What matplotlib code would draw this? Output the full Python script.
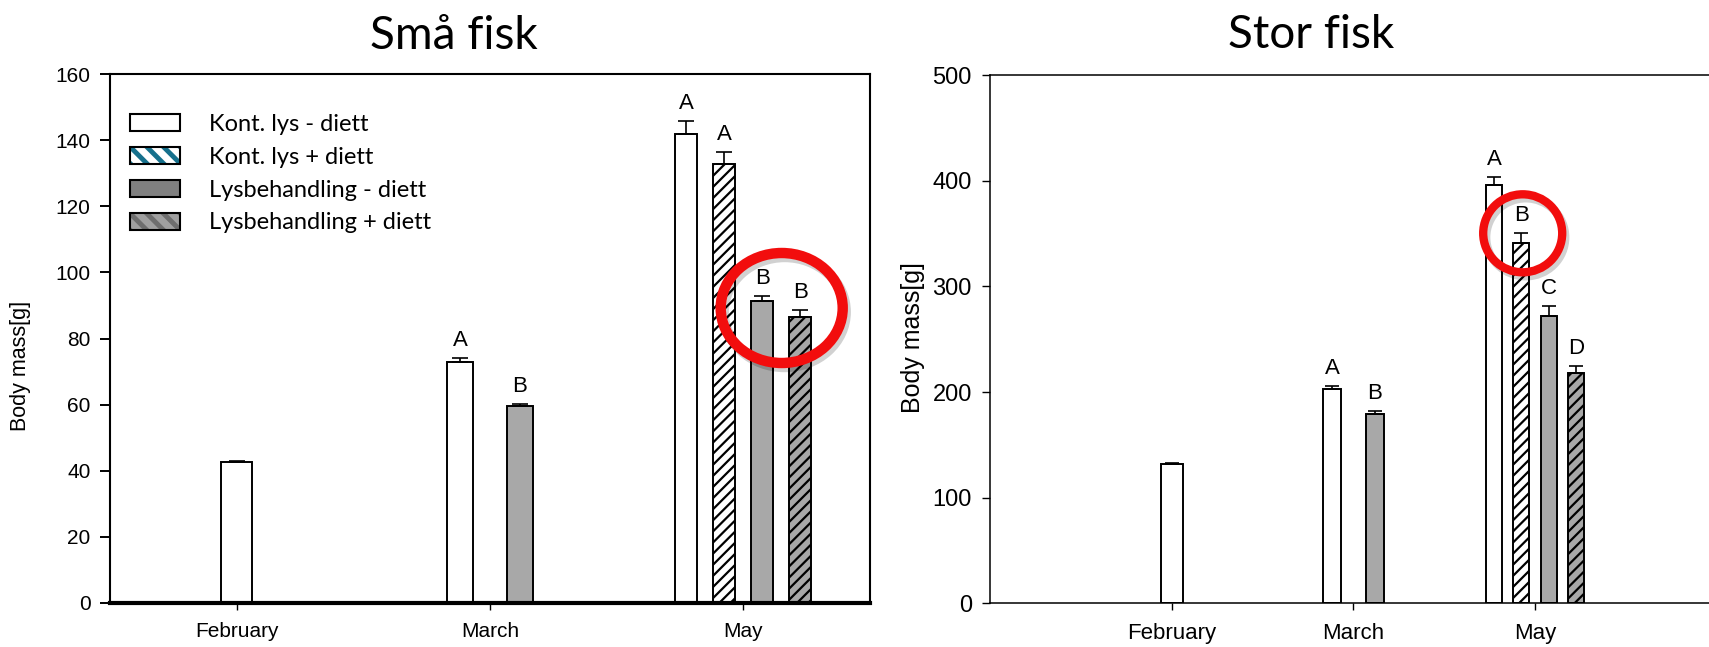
import numpy as np
import matplotlib
matplotlib.use("Agg")
from matplotlib import pyplot as plt
from matplotlib.patches import Patch, Ellipse

months = ["February", "March", "May"]
treatments = ["Kont. lys - diett", "Kont. lys + diett",
              "Lysbehandling - diett", "Lysbehandling + diett"]
nan = np.nan

# Små fisk (body mass, g)
small_kl_minus = [42.6, 72.8, 141.8]
small_kl_plus = [nan, nan, 132.9]
small_lb_minus = [nan, 59.5, 91.3]
small_lb_plus = [nan, nan, 86.6]
small_kl_minus_err = [0.5, 1.3, 4.0]
small_kl_plus_err = [nan, nan, 3.4]
small_lb_minus_err = [nan, 0.8, 1.5]
small_lb_plus_err = [nan, nan, 2.0]
small_kl_minus_lab = ["", "A", "A"]
small_kl_plus_lab = ["", "", "A"]
small_lb_minus_lab = ["", "B", "B"]
small_lb_plus_lab = ["", "", "B"]

# Stor fisk (body mass, g)
big_kl_minus = [131.8, 202.5, 395.7]
big_kl_plus = [nan, nan, 341.2]
big_lb_minus = [nan, 179.1, 272.1]
big_lb_plus = [nan, nan, 218.2]
big_kl_minus_err = [1.5, 3.5, 8.0]
big_kl_plus_err = [nan, nan, 9.4]
big_lb_minus_err = [nan, 2.8, 9.8]
big_lb_plus_err = [nan, nan, 6.3]
big_kl_minus_lab = ["", "A", "A"]
big_kl_plus_lab = ["", "", "B"]
big_lb_minus_lab = ["", "B", "C"]
big_lb_plus_lab = ["", "", "D"]

W, H = 1709, 647
GRAY = "#a8a8a8"
ARIAL = ["Liberation Sans", "DejaVu Sans"]
NARROW = ["Liberation Sans Narrow", "Liberation Sans", "DejaVu Sans"]
TEXT_FONT = ["Lato", "DejaVu Sans"]

plt.rcParams["hatch.linewidth"] = 1.6

# bar width and step between bars, by number of bars in a month
group_layout = {1: (0.122, 0.0), 2: (0.10, 0.236), 4: (0.088, 0.15)}

bar_styles = [
    dict(facecolor="white", edgecolor="black", hatch=None),
    dict(facecolor="white", edgecolor="black", hatch="///"),
    dict(facecolor=GRAY, edgecolor="black", hatch=None),
    dict(facecolor=GRAY, edgecolor="black", hatch="///"),
]


def draw_panel(ax, series, errs, labels, capsize, lw, font):
    for i in range(len(months)):
        present = [k for k in range(len(series)) if not np.isnan(series[k][i])]
        n = len(present)
        width, step = group_layout[n]
        for j, k in enumerate(present):
            x = i + (j - (n - 1) / 2) * step
            val, err = series[k][i], errs[k][i]
            ax.bar(x, val, width, linewidth=lw, zorder=2, **bar_styles[k])
            ax.errorbar(x, val, yerr=[[0], [err]], fmt="none", ecolor="black",
                        elinewidth=1.2, capsize=capsize, capthick=1.2, zorder=3)
            if labels[k][i]:
                ax.annotate(labels[k][i], (x, val + err), xytext=(0, 5),
                            textcoords="offset points", ha="center", va="bottom",
                            fontsize=16, family=font)


fig = plt.figure(figsize=(W / 100, H / 100), dpi=100)

# left panel
ax1 = fig.add_axes([110 / W, 1 - 603 / H, 760 / W, 529 / H])
draw_panel(ax1,
           [small_kl_minus, small_kl_plus, small_lb_minus, small_lb_plus],
           [small_kl_minus_err, small_kl_plus_err, small_lb_minus_err, small_lb_plus_err],
           [small_kl_minus_lab, small_kl_plus_lab, small_lb_minus_lab, small_lb_plus_lab],
           capsize=5.5, lw=1.4, font=ARIAL)
ax1.set_xlim(-0.5, 2.5)
ax1.set_ylim(0, 160)
ax1.set_yticks(np.arange(0, 161, 20))
ax1.set_xticks(range(len(months)))
ax1.set_xticklabels(months)
for s in ["left", "top", "right"]:
    ax1.spines[s].set_linewidth(1.5)
ax1.spines["bottom"].set_linewidth(3)
ax1.tick_params(axis="y", length=7, width=1.4, pad=7, labelsize=15)
ax1.tick_params(axis="x", length=5, width=1.0, pad=9, labelsize=15)
for t in ax1.get_xticklabels() + ax1.get_yticklabels():
    t.set_family(ARIAL)

# right panel (runs past the right edge of the picture)
ax2 = fig.add_axes([990 / W, 1 - 603.3 / H, 726.8 / W, 528 / H])
draw_panel(ax2,
           [big_kl_minus, big_kl_plus, big_lb_minus, big_lb_plus],
           [big_kl_minus_err, big_kl_plus_err, big_lb_minus_err, big_lb_plus_err],
           [big_kl_minus_lab, big_kl_plus_lab, big_lb_minus_lab, big_lb_plus_lab],
           capsize=5, lw=1.4, font=NARROW)
ax2.set_xlim(-1, 3)
ax2.set_ylim(0, 500)
ax2.set_yticks(np.arange(0, 501, 100))
ax2.set_xticks(range(len(months)))
ax2.set_xticklabels(months)
ax2.spines["right"].set_visible(False)
for s in ["left", "top", "bottom"]:
    ax2.spines[s].set_linewidth(1.1)
ax2.tick_params(axis="y", length=6, width=1.0, pad=7, labelsize=17)
ax2.tick_params(axis="x", length=5, width=1.0, pad=9, labelsize=16)
for t in ax2.get_xticklabels() + ax2.get_yticklabels():
    t.set_family(NARROW)

# titles and axis labels
fig.text(454 / W, 1 - 49 / H, "Små fisk", ha="center", va="baseline",
         fontsize=33, family=TEXT_FONT)
fig.text(1311 / W, 1 - 48.5 / H, "Stor fisk", ha="center", va="baseline",
         fontsize=33, family=TEXT_FONT)
fig.text(21 / W, 1 - 366 / H, "Body mass[g]", rotation=90, ha="center",
         va="center", fontsize=15.5, family=ARIAL)
fig.text(913 / W, 1 - 338 / H, "Body mass[g]", rotation=90, ha="center",
         va="center", fontsize=18, family=ARIAL)

# legend
teal = "#16708c"
h1 = Patch(facecolor="white", edgecolor="black", linewidth=1.5)
h2 = (Patch(facecolor="white", edgecolor=teal, hatch="\\\\", linewidth=0),
      Patch(facecolor="none", edgecolor="black", linewidth=1.5))
h3 = Patch(facecolor="#808080", edgecolor="black", linewidth=1.5)
h4 = (Patch(facecolor="#a0a0a0", edgecolor="#6e6e6e", hatch="\\\\", linewidth=0),
      Patch(facecolor="none", edgecolor="black", linewidth=1.5))
leg = ax1.legend([h1, h2, h3, h4], treatments, loc="upper left",
                 bbox_to_anchor=(130 / W, 1 - 114 / H), bbox_transform=fig.transFigure,
                 frameon=False, prop=dict(family=TEXT_FONT, size=17),
                 handlelength=2.1, handleheight=0.75, handletextpad=1.25,
                 labelspacing=0.5, borderpad=0, borderaxespad=0)
for p in leg.findobj(lambda a: isinstance(a, Patch) and bool(a.get_hatch())):
    if hasattr(p, "set_hatch_linewidth"):
        p.set_hatch_linewidth(3.5)

# red highlight rings
for cx, cy, ew, eh, lw in [(781.7, 308, 122, 110, 7.5), (1522.7, 233.3, 79, 78, 6)]:
    fig.add_artist(Ellipse(((cx + 3) / W, 1 - (cy + 4) / H), ew / W, eh / H,
                           transform=fig.transFigure, fill=False,
                           edgecolor="black", alpha=0.18, linewidth=lw))
    fig.add_artist(Ellipse((cx / W, 1 - cy / H), ew / W, eh / H,
                           transform=fig.transFigure, fill=False,
                           edgecolor="#f20d0d", linewidth=lw))

fig.savefig("out.png", dpi=100)
